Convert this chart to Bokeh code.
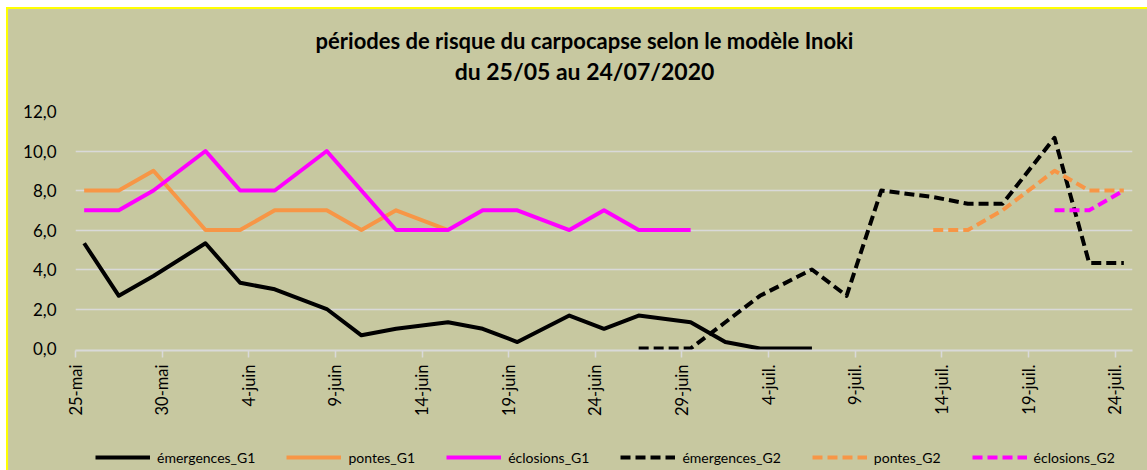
import math
import pandas as pd
from bokeh.plotting import figure
from bokeh.models import Range1d, FixedTicker, Legend, LegendItem, Label, Spacer
from bokeh.layouts import column, row
from bokeh.embed import file_html
from bokeh.resources import INLINE

START = "2020-05-25"
title_lines = ["périodes de risque du carpocapse selon le modèle Inoki", "du 25/05 au 24/07/2020"]
tick_dates = ["2020-05-25", "2020-05-30", "2020-06-04", "2020-06-09", "2020-06-14",
              "2020-06-19", "2020-06-24", "2020-06-29", "2020-07-04", "2020-07-09",
              "2020-07-14", "2020-07-19", "2020-07-24"]
tick_labels = ["25-mai", "30-mai", "4-juin", "9-juin", "14-juin", "19-juin", "24-juin",
               "29-juin", "4-juil.", "9-juil.", "14-juil.", "19-juil.", "24-juil."]
y_ticks = [0, 2, 4, 6, 8, 10, 12]
y_tick_labels = ["0,0", "2,0", "4,0", "6,0", "8,0", "10,0", "12,0"]

dates_G1 = ["2020-05-25", "2020-05-27", "2020-05-29", "2020-06-01", "2020-06-03",
            "2020-06-05", "2020-06-08", "2020-06-10", "2020-06-12", "2020-06-15",
            "2020-06-17", "2020-06-19", "2020-06-22", "2020-06-24", "2020-06-26",
            "2020-06-29", "2020-07-01", "2020-07-03", "2020-07-06"]
emergences_G1 = [5.33, 2.67, 3.67, 5.33, 3.33, 3.0, 2.0, 0.67, 1.0, 1.33,
                 1.0, 0.33, 1.67, 1.0, 1.67, 1.33, 0.33, 0.0, 0.0]
dates_pontes_G1 = dates_G1[:10]
pontes_G1 = [8, 8, 9, 6, 6, 7, 7, 6, 7, 6]
dates_eclosions_G1 = dates_G1[:16]
eclosions_G1 = [7, 7, 8, 10, 8, 8, 10, 8, 6, 6, 7, 7, 6, 7, 6, 6]

dates_emergences_G2 = ["2020-06-26", "2020-06-29", "2020-07-01", "2020-07-03", "2020-07-06",
                       "2020-07-08", "2020-07-10", "2020-07-13", "2020-07-15", "2020-07-17",
                       "2020-07-20", "2020-07-22", "2020-07-24"]
emergences_G2 = [0.0, 0.0, 1.33, 2.67, 4.0, 2.67, 8.0, 7.67, 7.33, 7.33, 10.67, 4.33, 4.33]
dates_pontes_G2 = ["2020-07-13", "2020-07-15", "2020-07-17", "2020-07-20", "2020-07-22", "2020-07-24"]
pontes_G2 = [6, 6, 7, 9, 8, 8]
dates_eclosions_G2 = ["2020-07-20", "2020-07-22", "2020-07-24"]
eclosions_G2 = [7, 7, 8]

BG = "#C7C8A0"
GRID = "#D9D9D9"
YELLOW = "#FFFF00"
FONT = "Lato"


def days(dates):
    t0 = pd.Timestamp(START)
    return [(pd.Timestamp(d) - t0).days for d in dates]


tick_pos = [d - 0.5 for d in days(tick_dates)]
n_days = days(tick_dates)[-1]

# ---- title strip (frame aligned with the chart frame: window x 75..1132, y 9..101)
tf = figure(width=1139, height=92, x_range=Range1d(75, 1132), y_range=Range1d(101, 9),
            output_backend="svg", toolbar_location=None, title=None,
            x_axis_type=None, y_axis_type=None,
            min_border_left=0, min_border_right=0, min_border_top=0, min_border_bottom=0)
tf.background_fill_color = BG
tf.border_fill_color = BG
tf.outline_line_color = None
for txt, ty, fs in zip(title_lines, [40, 70], ["22px", "23px"]):
    tf.add_layout(Label(x=584, y=ty, text=txt, text_align="center", text_baseline="middle",
                        text_font=FONT, text_font_style="bold", text_font_size=fs,
                        text_color="#000000"))

# ---- main chart
p = figure(width=1139, height=329,
           x_range=Range1d(-0.5, n_days + 0.5), y_range=Range1d(-0.1, 12),
           output_backend="svg", toolbar_location=None, title=None,
           min_border_left=67, min_border_right=15, min_border_top=10, min_border_bottom=80)
p.background_fill_color = BG
p.border_fill_color = BG
p.outline_line_color = None

p.xgrid.visible = False
p.ygrid.grid_line_color = GRID
p.ygrid.grid_line_width = 1.5
p.ygrid.ticker = FixedTicker(ticks=y_ticks[1:])

ya = p.yaxis[0]
ya.ticker = FixedTicker(ticks=y_ticks)
ya.major_label_overrides = {t: l for t, l in zip(y_ticks, y_tick_labels)}
ya.axis_line_color = None
ya.major_tick_line_color = None
ya.minor_tick_line_color = None
ya.major_label_standoff = 13
ya.major_label_text_font = FONT
ya.major_label_text_font_size = "17px"
ya.major_label_text_color = "#000000"

xa = p.xaxis[0]
xa.ticker = FixedTicker(ticks=tick_pos)
xa.major_label_overrides = {t: l for t, l in zip(tick_pos, tick_labels)}
xa.major_label_orientation = math.pi / 2
xa.axis_line_color = GRID
xa.axis_line_width = 2
xa.major_tick_line_color = GRID
xa.major_tick_line_width = 1.5
xa.major_tick_out = 7
xa.major_tick_in = 0
xa.minor_tick_line_color = None
xa.major_label_standoff = 7
xa.major_label_text_font = FONT
xa.major_label_text_font_size = "16.5px"
xa.major_label_text_color = "#000000"

BLACK = "#000000"
ORANGE = "#F79646"
MAGENTA = "#FF00FF"
DASH = "10 5"

series = [
    ("émergences_G1", dates_G1, emergences_G1, BLACK, "solid"),
    ("pontes_G1", dates_pontes_G1, pontes_G1, ORANGE, "solid"),
    ("éclosions_G1", dates_eclosions_G1, eclosions_G1, MAGENTA, "solid"),
    ("émergences_G2", dates_emergences_G2, emergences_G2, BLACK, DASH),
    ("pontes_G2", dates_pontes_G2, pontes_G2, ORANGE, DASH),
    ("éclosions_G2", dates_eclosions_G2, eclosions_G2, MAGENTA, DASH),
]

# ---- legend strip below the chart (its own lines lie outside its visible range)
q = figure(width=1139, height=40, x_range=Range1d(-0.5, n_days + 0.5), y_range=Range1d(100, 101),
           output_backend="svg", toolbar_location=None, title=None,
           x_axis_type=None, y_axis_type=None,
           min_border_left=0, min_border_right=0, min_border_top=0, min_border_bottom=0)
q.background_fill_color = BG
q.border_fill_color = BG
q.outline_line_color = None

items = []
for name, ds, vals, col, dash in series:
    p.line(days(ds), vals, line_color=col, line_width=4, line_dash=dash, line_join="round")
    rq = q.line(days(ds), vals, line_color=col, line_width=4, line_dash=dash)
    items.append(LegendItem(label=name, renderers=[rq]))

legend = Legend(items=items, orientation="horizontal", location=(20, 4),
                glyph_width=55, glyph_height=18, label_height=18, label_standoff=7, spacing=31,
                label_text_font=FONT, label_text_font_size="14px", label_text_color="#000000",
                background_fill_alpha=0, border_line_alpha=0, padding=0, margin=0)
q.add_layout(legend, "center")

inner = column(tf, p, q, styles={"background-color": BG})
layout = column(
    Spacer(width=1147, height=7),
    row(Spacer(width=6, height=463),
        column(Spacer(width=1141, height=2, styles={"background-color": YELLOW}),
               row(Spacer(width=2, height=461, styles={"background-color": YELLOW}),
                   inner))))

open("out.html", "w").write(file_html(layout, INLINE))
